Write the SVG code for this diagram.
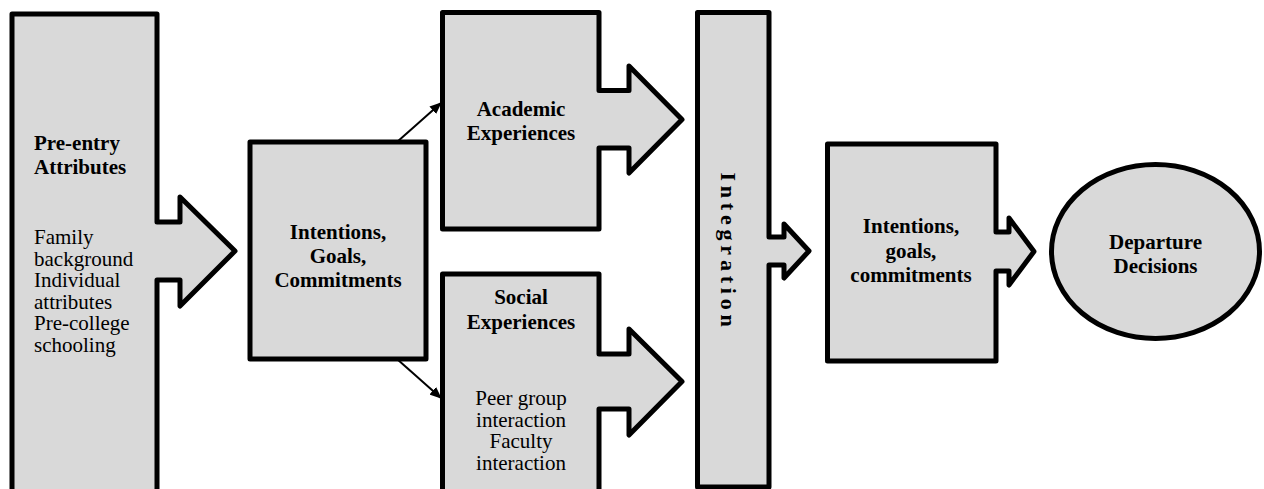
<svg xmlns="http://www.w3.org/2000/svg" width="1264" height="489" viewBox="0 0 1264 489">
  <defs>
    <style>
      .box { fill: #d9d9d9; stroke: #000; stroke-width: 5; stroke-linejoin: round; }
      .lbl { font-family: "Liberation Serif", "Times New Roman", serif; font-size: 21px; fill: #000; }
      .b { font-weight: bold; }
      .c { text-anchor: middle; }
      .conn { stroke: #000; stroke-width: 2; fill: none; }
    </style>
    <marker id="head" viewBox="0 0 12 10" refX="11" refY="5" markerWidth="12" markerHeight="10" markerUnits="userSpaceOnUse" orient="auto">
      <path d="M0,0 L12,5 L0,10 Z" fill="#000"/>
    </marker>
  </defs>

  <rect width="1264" height="489" fill="#fff"/>

  <!-- Pre-entry attributes column with its outgoing block arrow -->
  <g id="pre-entry">
    <path class="box" d="M12,500 V14 H157 V222 H180 V197 L235,251 L180,306 V280 H157 V500"/>
    <text class="lbl b" x="34" y="150">Pre-entry</text>
    <text class="lbl b" x="34" y="174">Attributes</text>
    <text class="lbl" x="34" y="244">Family</text>
    <text class="lbl" x="34" y="265.5">background</text>
    <text class="lbl" x="34" y="287">Individual</text>
    <text class="lbl" x="34" y="308.5">attributes</text>
    <text class="lbl" x="34" y="330">Pre-college</text>
    <text class="lbl" x="34" y="351.5">schooling</text>
  </g>

  <!-- Initial intentions, goals, commitments -->
  <g id="intentions-initial">
    <rect class="box" x="250" y="142" width="176" height="217"/>
    <text class="lbl b c" x="338" y="239">Intentions,</text>
    <text class="lbl b c" x="338" y="263">Goals,</text>
    <text class="lbl b c" x="338" y="287">Commitments</text>
  </g>

  <!-- Academic experiences with block arrow -->
  <g id="academic">
    <path class="box" d="M442.5,12.5 H599 V90.5 H629 V66 L682,119.5 L629,173 V148 H599 V229 H442.5 Z"/>
    <text class="lbl b c" x="521" y="116">Academic</text>
    <text class="lbl b c" x="521" y="140">Experiences</text>
  </g>

  <!-- Social experiences with block arrow -->
  <g id="social">
    <path class="box" d="M442.5,500 V274 H599 V354 H629 V329 L682,381.5 L629,435 V409 H599 V500"/>
    <text class="lbl b c" x="521" y="304">Social</text>
    <text class="lbl b c" x="521" y="329">Experiences</text>
    <text class="lbl c" x="521" y="405">Peer group</text>
    <text class="lbl c" x="521" y="426.5">interaction</text>
    <text class="lbl c" x="521" y="448">Faculty</text>
    <text class="lbl c" x="521" y="469.5">interaction</text>
  </g>

  <!-- Integration bar with block arrow; label runs top to bottom -->
  <g id="integration">
    <path class="box" d="M697.5,12.5 H769 V237 H784 V224 L809,251 L784,278 V265 H769 V487 H697.5 Z"/>
    <text class="lbl b c" transform="translate(721,252) rotate(90)" style="font-size:22px" letter-spacing="4.8">Integration</text>
  </g>

  <!-- Later intentions, goals, commitments with block arrow -->
  <g id="intentions-later">
    <path class="box" d="M827.5,144 H996 V232 H1009 V218 L1034,251.5 L1009,285 V271 H996 V361 H827.5 Z"/>
    <text class="lbl b c" x="911" y="233">Intentions,</text>
    <text class="lbl b c" x="911" y="257.5">goals,</text>
    <text class="lbl b c" x="911" y="282">commitments</text>
  </g>

  <!-- Outcome -->
  <g id="departure">
    <ellipse class="box" cx="1155.5" cy="251.5" rx="104" ry="87"/>
    <text class="lbl b c" x="1155.5" y="249">Departure</text>
    <text class="lbl b c" x="1155.5" y="273">Decisions</text>
  </g>

  <!-- Thin connectors from the initial commitments box -->
  <g id="connectors">
    <line class="conn" x1="397" y1="142" x2="441" y2="103" marker-end="url(#head)"/>
    <line class="conn" x1="397" y1="359" x2="441" y2="398" marker-end="url(#head)"/>
  </g>
</svg>
